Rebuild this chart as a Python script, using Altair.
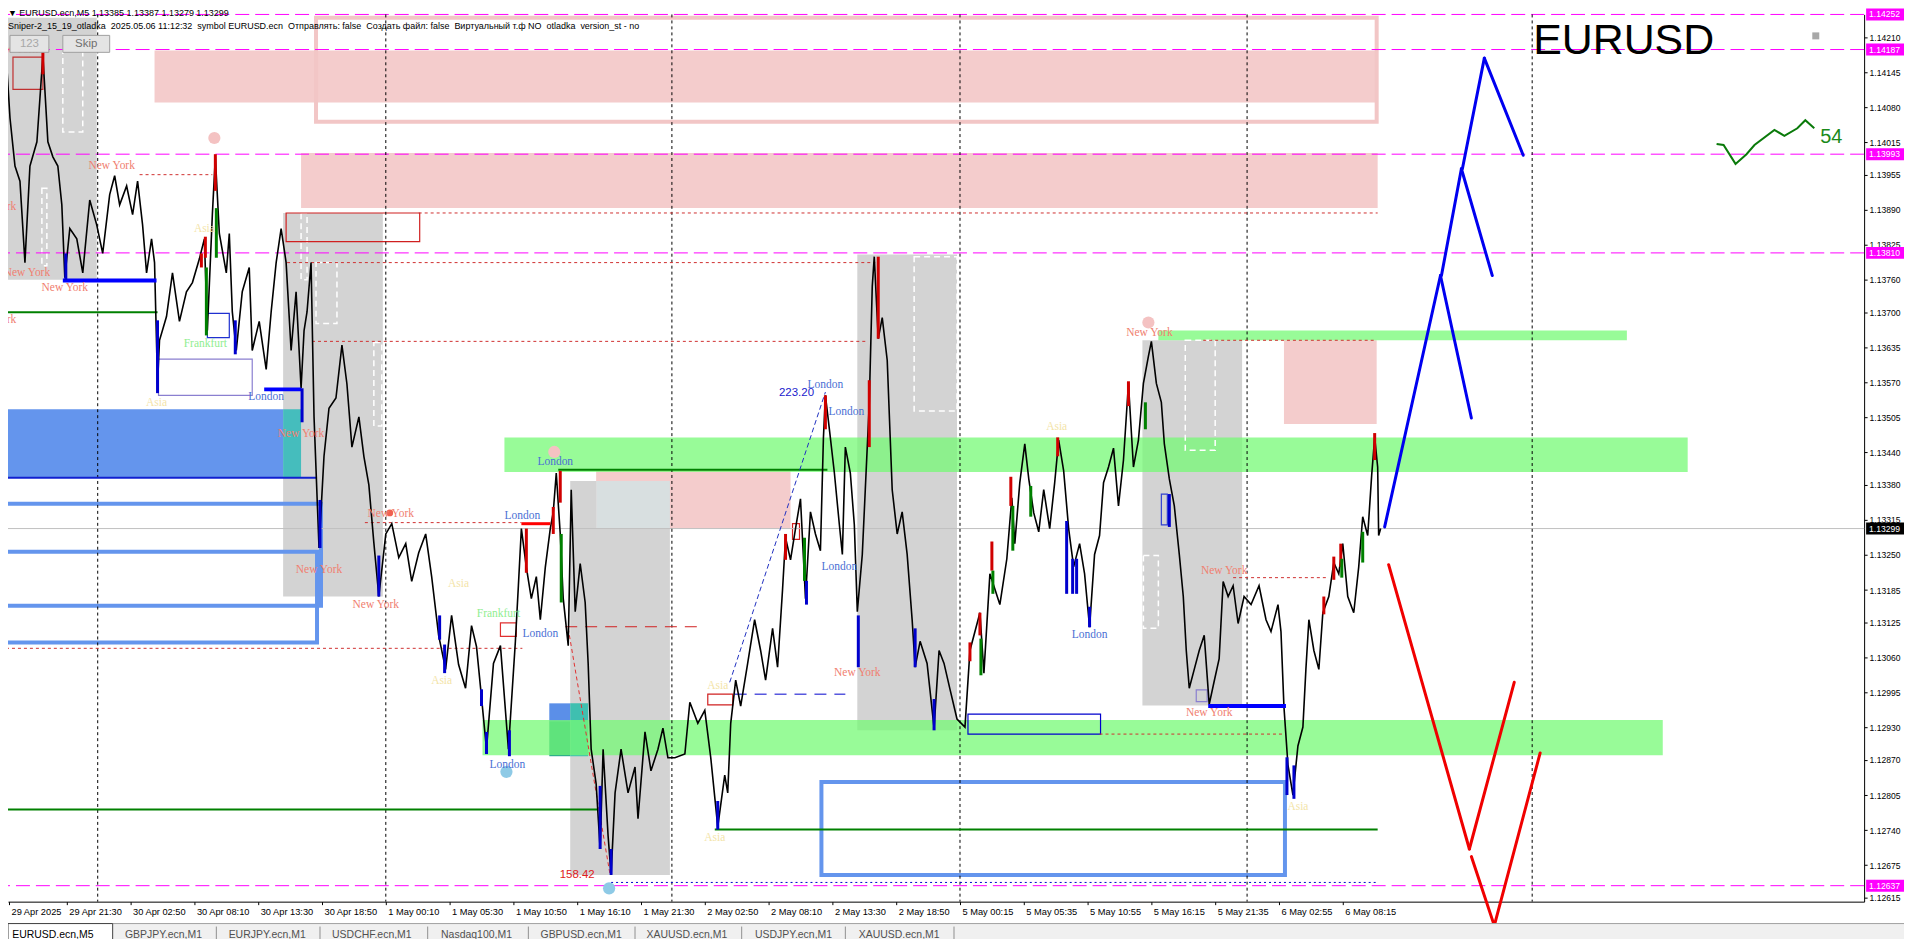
import altair as alt
import pandas as pd

# ---------------- axes ----------------
X_TICKS = [9, 67, 131, 195, 259, 323, 387, 451, 515, 579, 643, 707, 771, 835, 899,
           963, 1027, 1091, 1155, 1219, 1283, 1347]
X_LABELS = ["29 Apr 2025", "29 Apr 21:30", "30 Apr 02:50", "30 Apr 08:10", "30 Apr 13:30",
            "30 Apr 18:50", "1 May 00:10", "1 May 05:30", "1 May 10:50", "1 May 16:10",
            "1 May 21:30", "2 May 02:50", "2 May 08:10", "2 May 13:30", "2 May 18:50",
            "5 May 00:15", "5 May 05:35", "5 May 10:55", "5 May 16:15", "5 May 21:35",
            "6 May 02:55", "6 May 08:15"]
Y_TICKS = [1.14210, 1.14145, 1.14080, 1.14015, 1.13955, 1.13890, 1.13825, 1.13760, 1.13700,
           1.13635, 1.13570, 1.13505, 1.13440, 1.13380, 1.13315, 1.13250, 1.13185, 1.13125,
           1.13060, 1.12995, 1.12930, 1.12870, 1.12805, 1.12740, 1.12675, 1.12615]
HL_MAGENTA = [1.14252, 1.14187, 1.13993, 1.13810, 1.12637]
CUR_PRICE = 1.13299

# ---------------- price path (bar index, price) ----------------
PATH = [
(4,1.14016),(7,1.14150),(10,1.14060),(15,1.13971),(20,1.13943),(25,1.13792),(30,1.13971),
(37,1.14016),(43,1.14176),(48,1.14016),(53,1.13988),(58,1.13971),(62,1.13899),(65,1.13764),
(70,1.13855),(77,1.13836),(83,1.13773),(90,1.13908),(97,1.13862),(103,1.13809),(110,1.13918),
(115,1.13953),(120,1.13899),(127,1.13934),(133,1.13881),(138,1.13943),(143,1.13862),
(147,1.13773),(152,1.13836),(155,1.13792),(158,1.13567),(160,1.13648),(167,1.13692),
(173,1.13773),(180,1.13683),(187,1.13738),(193,1.13755),(200,1.13799),(205,1.13836),
(208,1.13666),(213,1.13881),(216,1.13988),(220,1.13846),(227,1.13773),(230,1.13846),
(233,1.13701),(237,1.13629),(243,1.13738),(250,1.13783),(253,1.13629),(260,1.13683),
(267,1.13594),(272,1.13701),(277,1.13792),(282,1.13855),(287,1.13792),(292,1.13629),
(297,1.13738),(302,1.13559),(305,1.13666),(308,1.13701),(312,1.13792),(315,1.13506),
(320,1.13263),(325,1.13433),(330,1.13522),(337,1.13541),(343,1.13639),(348,1.13567),
(353,1.13450),(360,1.13506),(365,1.13433),(370,1.13380),(375,1.13273),(380,1.13173),
(387,1.13289),(393,1.13308),(400,1.13245),(407,1.13271),(413,1.13201),(420,1.13254),
(427,1.13289),(433,1.13210),(440,1.13101),(447,1.13038),(453,1.13138),(460,1.13047),
(467,1.13003),(473,1.13119),(478,1.13080),(483,1.12986),(488,1.12890),(495,1.13049),
(502,1.13082),(510,1.12890),(517,1.13090),(520,1.13193),(523,1.13299),(528,1.13227),
(533,1.13169),(538,1.13210),(542,1.13130),(547,1.13227),(552,1.13299),(555,1.13330),
(558,1.13402),(562,1.13289),(565,1.13169),(570,1.13082),(573,1.13371),(577,1.13145),
(582,1.13234),(587,1.13162),(590,1.13049),(593,1.12890),(598,1.12826),(602,1.12705),
(605,1.12890),(610,1.12729),(613,1.12657),(617,1.12809),(623,1.12890),(630,1.12809),
(637,1.12857),(640,1.12761),(647,1.12922),(653,1.12850),(660,1.12890),(665,1.12929),
(670,1.12874),(677,1.12874),(687,1.12881),(692,1.12977),(700,1.12938),(707,1.12962),
(713,1.12874),(720,1.12746),(727,1.12842),(730,1.12809),(733,1.12938),(738,1.13018),
(743,1.12970),(750,1.13049),(757,1.13130),(763,1.13073),(768,1.13018),(775,1.13114),
(780,1.13042),(785,1.13186),(788,1.13282),(793,1.13241),(798,1.13299),(803,1.13354),
(808,1.13169),(813,1.13330),(818,1.13289),(823,1.13258),(826,1.13467),(828,1.13546),
(832,1.13483),(837,1.13402),(842,1.13306),(845,1.13251),(848,1.13450),(853,1.13402),
(857,1.13306),(860,1.13145),(865,1.13251),(868,1.13371),(872,1.13531),(875,1.13748),
(877,1.13803),(881,1.13651),(885,1.13690),(890,1.13611),(895,1.13371),(900,1.13289),
(905,1.13330),(910,1.13251),(915,1.13130),(918,1.13042),(923,1.13090),(930,1.13049),
(937,1.12929),(942,1.13073),(947,1.13049),(953,1.13001),(960,1.12946),(968,1.12931),
(973,1.13073),(983,1.13143),(987,1.13031),(993,1.13215),(1003,1.13158),(1010,1.13243),
(1015,1.13356),(1018,1.13271),(1023,1.13384),(1028,1.13456),(1032,1.13391),(1037,1.13328),
(1042,1.13293),(1047,1.13371),(1053,1.13299),(1058,1.13384),(1062,1.13463),(1067,1.13406),
(1072,1.13299),(1077,1.13228),(1083,1.13271),(1088,1.13215),(1093,1.13116),(1098,1.13251),
(1103,1.13286),(1107,1.13384),(1112,1.13413),(1117,1.13448),(1122,1.13341),(1127,1.13426),
(1132,1.13568),(1137,1.13413),(1142,1.13463),(1147,1.13568),(1152,1.13618),(1155,1.13646),
(1160,1.13568),(1165,1.13533),(1168,1.13456),(1173,1.13391),(1178,1.13341),(1183,1.13251),
(1187,1.13173),(1190,1.13073),(1193,1.13003),(1198,1.13038),(1203,1.13073),(1208,1.13101),
(1213,1.12973),(1218,1.13016),(1223,1.13058),(1227,1.13201),(1232,1.13173),(1237,1.13193),
(1242,1.13123),(1248,1.13173),(1255,1.13158),(1263,1.13193),(1270,1.13130),(1275,1.13108),
(1282,1.13158),(1285,1.13108),(1288,1.12968),(1292,1.12861),(1297,1.12805),(1302,1.12896),
(1307,1.12931),(1310,1.13038),(1313,1.13130),(1318,1.13073),(1323,1.13038),(1327,1.13143),
(1333,1.13173),(1338,1.13236),(1343,1.13215),(1347,1.13271),(1352,1.13173),(1358,1.13143),
(1363,1.13228),(1367,1.13321),(1372,1.13286),(1376,1.13398),(1379,1.13468),(1382,1.13413),
(1383,1.13286),(1385,1.13299)]

# coloured candle highlights (bar, high, low, colour)
CANDLES = [
(43,1.14185,1.14141,"r"),(216,1.13993,1.13925,"r"),(217,1.13893,1.13801,"g"),
(202,1.13809,1.13783,"r"),(206,1.13840,1.13801,"r"),(207,1.13783,1.13657,"g"),
(66,1.13809,1.13760,"b"),(158,1.13685,1.13550,"b"),(236,1.13685,1.13622,"b"),
(303,1.13559,1.13496,"b"),(321,1.13352,1.13263,"b"),(380,1.13249,1.13173,"b"),
(441,1.13138,1.13093,"b"),(446,1.13084,1.13031,"b"),(483,1.13001,1.12970,"b"),
(488,1.12922,1.12881,"b"),(511,1.12925,1.12877,"b"),(528,1.13299,1.13217,"r"),
(555,1.13339,1.13289,"r"),(562,1.13406,1.13347,"r"),(563,1.13289,1.13162,"g"),
(602,1.12822,1.12705,"b"),(613,1.12705,1.12657,"b"),(720,1.12794,1.12741,"b"),
(788,1.13289,1.13241,"r"),(807,1.13282,1.13202,"g"),(809,1.13202,1.13158,"b"),
(828,1.13546,1.13483,"r"),(872,1.13574,1.13450,"r"),(881,1.13803,1.13651,"r"),
(861,1.13138,1.13042,"b"),(918,1.13114,1.13042,"b"),(937,1.12983,1.12925,"b"),
(973,1.13088,1.13053,"r"),(983,1.13143,1.13101,"r"),(984,1.13095,1.13027,"g"),
(995,1.13275,1.13221,"r"),(996,1.13221,1.13178,"g"),(1014,1.13395,1.13341,"r"),
(1016,1.13341,1.13258,"g"),(1034,1.13378,1.13321,"g"),(1061,1.13468,1.13433,"r"),
(1070,1.13313,1.13178,"b"),(1076,1.13243,1.13178,"b"),(1080,1.13243,1.13178,"b"),
(1093,1.13154,1.13116,"b"),(1132,1.13572,1.13526,"r"),(1149,1.13533,1.13483,"g"),
(1173,1.13363,1.13302,"b"),(1291,1.12875,1.12805,"b"),(1298,1.12860,1.12798,"b"),
(1328,1.13173,1.13140,"r"),(1338,1.13247,1.13204,"r"),(1345,1.13271,1.13228,"r"),
(1346,1.13243,1.13208,"g"),(1367,1.13293,1.13236,"g"),(1379,1.13476,1.13426,"r")]
CANDLE_COLORS = {"r": "#D00000", "g": "#008000", "b": "#0000CD"}

# ---------------- zones (x0, x1, price top, price bottom) ----------------
GREY_BOXES = [(4,97,1.14246,1.13760),(284,384,1.13884,1.13173),(572,672,1.13387,1.12657),
              (860,960,1.13807,1.12925),(1146,1246,1.13648,1.12971)]
PINK_BOXES = [(155,1382,1.14185,1.14089),(302,1382,1.13995,1.13893),
              (598,793,1.13406,1.13299),(1288,1381,1.13648,1.13493)]
PINK_FRAME = [(317,1381,1.14246,1.14053)]
OVERLAP_BOX = [(598,672,1.13387,1.13299)]
BLUE_FILL = [(0,284,1.13520,1.13393,"#6495ED"),(284,302,1.13520,1.13393,"#45BDBD"),
             (551,572,1.12975,1.12942,"#5B8FE8"),(551,572,1.12942,1.12877,"#1F9E8E"),
             (572,590,1.12975,1.12877,"#3FBFB0")]
GREEN_BANDS = [(506,1693,1.13468,1.13404),(1162,1632,1.13666,1.13648),(484,1668,1.12944,1.12879)]
BLUE_FRAMES = [(0,322,1.13345,1.13156),(0,318,1.13256,1.13088),(824,1289,1.12829,1.12657)]
THIN_FRAMES = [(971,1104,1.12955,1.12918,"#0000CD"),(159,253,1.13613,1.13546,"#8A7FD0"),
               (208,230,1.13698,1.13653,"#2030D0"),(287,421,1.13884,1.13831,"#D02020"),
               (13,43,1.14173,1.14113,"#C03030"),(502,518,1.13124,1.13099,"#E03030"),
               (710,735,1.12992,1.12972,"#D02020"),(795,802,1.13308,1.13279,"#D02020"),
               (1165,1171,1.13363,1.13306,"#3040D0"),(1200,1211,1.13000,1.12978,"#8A7FD0")]
WHITE_DASH = [(63,83,1.14185,1.14034),(42,47,1.13930,1.13786),(317,338,1.13792,1.13679),
              (375,383,1.13644,1.13489),(917,960,1.13803,1.13517),(1189,1219,1.13648,1.13444),
              (1147,1162,1.13249,1.13114),(302,308,1.13884,1.13760)]

# ---------------- horizontal levels (x0, x1, price) ----------------
GREEN_LEVELS = [(0,158,1.13700),(560,830,1.13408),(0,600,1.12778),(717,1382,1.12741)]
BLUE_THICK = [(63,157,1.13759),(265,302,1.13557),(1212,1290,1.12970)]
BLUE_THIN = [(0,318,1.13393)]
RED_THICK = [(523,552,1.13308)]
RED_DOTTED = [(140,213,1.13955),(420,1382,1.13884),(288,878,1.13792),(313,870,1.13646),
              (366,523,1.13310),(0,524,1.13077),(1207,1380,1.13648),(1237,1333,1.13208),
              (1103,1287,1.12918)]
RED_DASHED = [(567,707,1.13117)]
BLUE_DASHED = [(737,848,1.12992)]
BLUE_DOTTED = [(613,1382,1.12643)]
DAY_SEPARATORS = [98, 387, 674, 963, 1251, 1537]

# diagonals (x0, p0, x1, p1)
BLUE_DIAG = [(732,1.13014,828,1.13552)]
RED_DIAG = [(570,1.13114,612,1.12657)]

# projections
BLUE_PROJ = [(1389,1.13302,1445,1.13768),(1446,1.13768,1466,1.13966),(1467,1.13966,1489,1.14171),
             (1489,1.14171,1528,1.13991),(1466,1.13966,1497,1.13768),(1445,1.13768,1476,1.13504)]
RED_PROJ = [(1393,1.13232,1474,1.12705),(1474,1.12705,1519,1.13014),
            (1476,1.12691,1499,1.12563),(1499,1.12563,1545,1.12883)]

# mini indicator line
MINI = [(1722,1.14012),(1729,1.14010),(1741,1.13975),(1752,1.13993),(1760,1.14010),
        (1780,1.14038),(1790,1.14027),(1803,1.14041),(1811,1.14056),(1820,1.14041)]

# dots (bar, price, colour, size)
DOTS = [(215,1.14023,"#F4C2C2",150),(556,1.13441,"#F4C2C2",150),(1152,1.13681,"#F4C2C2",150),
        (508,1.12848,"#8ECAE6",150),(611,1.12632,"#8ECAE6",150),(391,1.13328,"#F06050",45)]

# session labels (bar, price, text, kind)
LABELS = [
(112,1.13971,"New York","ny"),(27,1.13773,"New York","ny"),(65,1.13744,"New York","ny"),
(-7,1.13895,"New York","ny"),(-7,1.13685,"New York","ny"),(15,1.14187,"New York","ny"),
(206,1.13642,"Frankfurt","fr"),(267,1.13542,"London","ld"),(302,1.13475,"New York","ny"),
(392,1.13326,"New York","ny"),(320,1.13223,"New York","ny"),(377,1.13158,"New York","ny"),
(500,1.13140,"Frankfurt","fr"),(542,1.13103,"London","ld"),(524,1.13323,"London","ld"),
(557,1.13422,"London","ld"),(509,1.12861,"London","ld"),(828,1.13565,"London","ld"),
(849,1.13515,"London","ld"),(842,1.13227,"London","ld"),(860,1.13031,"New York","ny"),
(1153,1.13661,"New York","ny"),(1093,1.13101,"London","ld"),(1228,1.13221,"New York","ny"),
(1213,1.12957,"New York","ny"),
(205,1.13855,"Asia","as"),(157,1.13531,"Asia","as"),(460,1.13197,"Asia","as"),
(443,1.13016,"Asia","as"),(720,1.13007,"Asia","as"),(717,1.12726,"Asia","as"),
(1060,1.13487,"Asia","as"),(1302,1.12783,"Asia","as")]
LABEL_KINDS = ["ny", "ld", "fr", "as"]
LABEL_COLORS = ["#F08070", "#4A6FD4", "#90EE90", "#F3E4A8"]

NUMBERS = [(799,1.13550,"223.20","#1A1ACD"),(579,1.12656,"158.42","#E02020")]

HEADER_1 = "\u25BC EURUSD.ecn,M5  1.13385 1.13387 1.13279 1.13299"
HEADER_2 = ("Sniper-2_15_19_otladka\u00a0\u00a02025.05.06 11:12:32\u00a0\u00a0symbol EURUSD.ecn"
            "\u00a0\u00a0Отправлять: false\u00a0\u00a0Создать файл: false\u00a0\u00a0"
            "Виртуальный т.ф NO\u00a0\u00a0otladka\u00a0\u00a0version_st - no")
TABS = ["EURUSD.ecn,M5", "GBPJPY.ecn,M1", "EURJPY.ecn,M1", "USDCHF.ecn,M1", "Nasdaq100,M1",
        "GBPUSD.ecn,M1", "XAUUSD.ecn,M1", "USDJPY.ecn,M1", "XAUUSD.ecn,M1"]
TAB_CENTERS = [45, 156, 260, 365, 470, 575, 681, 788, 894]
TAB_SEPS = [209, 313, 421, 522, 629, 736, 840, 949]

# ---------------- chart ----------------
W, H = 1862, 890
RIGHT_PAD = 40
XS = alt.Scale(domain=[8, 1870], nice=False, zero=False)
YS = alt.Scale(domain=[1.126074, 1.14252], nice=False, zero=False)
SANS = "Liberation Sans"
SERIF = "Liberation Serif"
AXIS_FS = 8.6

lab_expr = ("[" + ",".join(repr(s) for s in X_LABELS) + "][indexof(["
            + ",".join(str(v) for v in X_TICKS) + "], datum.value)]")
AX_X = alt.Axis(values=X_TICKS, labelExpr=lab_expr, title=None, grid=False, orient="bottom",
                labelAlign="left", labelOffset=2, labelPadding=3, tickSize=3, labelFontSize=9.3,
                labelFont=SANS, labelColor="black", tickColor="black", domainColor="black",
                labelFlush=False, labelOverlap=False)
AX_Y = alt.Axis(values=Y_TICKS, format=".5f", title=None, grid=False, orient="right",
                labelAlign="left", labelPadding=2, tickSize=3, labelFontSize=AXIS_FS,
                labelFont=SANS, labelColor="black", tickColor="black", domainColor="black",
                labelFlush=False, labelOverlap=False, labelBaseline="middle")


def X(f):
    return alt.X(f"{f}:Q", scale=XS, axis=AX_X)


def Y(f):
    return alt.Y(f"{f}:Q", scale=YS, axis=AX_Y)


def boxes(rows, cols=("x0", "x1", "p0", "p1")):
    return pd.DataFrame(rows, columns=list(cols))


def rect_layer(rows, **mk):
    return alt.Chart(boxes(rows)).mark_rect(**mk).encode(
        x=X("x0"), x2="x1", y=Y("p0"), y2="p1")


def hseg(rows, **mk):
    return alt.Chart(pd.DataFrame(rows, columns=["x0", "x1", "p"])).mark_rule(**mk).encode(
        x=X("x0"), x2="x1", y=Y("p"))


def diag(rows, **mk):
    return alt.Chart(pd.DataFrame(rows, columns=["x0", "p0", "x1", "p1"])).mark_rule(**mk).encode(
        x=X("x0"), x2="x1", y=Y("p0"), y2="p1")


def PX(f):
    return alt.X(f"{f}:Q", scale=None, axis=None)


def PY(f):
    return alt.Y(f"{f}:Q", scale=None, axis=None)


layers = []
layers.append(rect_layer(GREY_BOXES, color="#D3D3D3"))
layers.append(rect_layer(PINK_BOXES, color="#F4CCCC"))
layers.append(rect_layer(PINK_FRAME, fillOpacity=0, stroke="#F2C6C6", strokeWidth=4))
layers.append(rect_layer(OVERLAP_BOX, color="#D8DFE0"))
layers.append(alt.Chart(boxes(BLUE_FILL, ("x0", "x1", "p0", "p1", "c"))).mark_rect().encode(
    x=X("x0"), x2="x1", y=Y("p0"), y2="p1", color=alt.Color("c:N", scale=None)))
layers.append(rect_layer(GREEN_BANDS, color="#76FA76", opacity=0.75))
layers.append(rect_layer(WHITE_DASH, fillOpacity=0, stroke="white", strokeWidth=1.5,
                         strokeDash=[6, 4]))
layers.append(rect_layer(BLUE_FRAMES, fillOpacity=0, stroke="#6495ED", strokeWidth=4))
layers.append(alt.Chart(boxes(THIN_FRAMES, ("x0", "x1", "p0", "p1", "c"))).mark_rect(
    fillOpacity=0, strokeWidth=1.2).encode(
    x=X("x0"), x2="x1", y=Y("p0"), y2="p1", stroke=alt.Stroke("c:N", scale=None)))

# full-width levels
layers.append(alt.Chart(pd.DataFrame({"p": [CUR_PRICE]})).mark_rule(
    color="#C0C0C0", strokeWidth=1).encode(y=Y("p")))
layers.append(alt.Chart(pd.DataFrame({"p": HL_MAGENTA})).mark_rule(
    color="#FF00FF", strokeWidth=1, strokeDash=[14, 6]).encode(y=Y("p")))
layers.append(alt.Chart(pd.DataFrame({"x": DAY_SEPARATORS})).mark_rule(
    color="black", strokeWidth=1, strokeDash=[3, 3]).encode(x=X("x")))

layers.append(hseg(GREEN_LEVELS, color="#008000", strokeWidth=2))
layers.append(hseg(BLUE_THIN, color="#1020D0", strokeWidth=2))
layers.append(hseg(RED_DOTTED, color="#D03030", strokeWidth=1, strokeDash=[3, 3]))
layers.append(hseg(RED_DASHED, color="#D02020", strokeWidth=1, strokeDash=[12, 8]))
layers.append(hseg(BLUE_DASHED, color="#0000CD", strokeWidth=1, strokeDash=[12, 8]))
layers.append(hseg(BLUE_DOTTED, color="#0000CD", strokeWidth=1, strokeDash=[2, 3]))
layers.append(diag(BLUE_DIAG, color="#2030C0", strokeWidth=1, strokeDash=[5, 3]))
layers.append(diag(RED_DIAG, color="#E03030", strokeWidth=1, strokeDash=[4, 3]))

layers.append(alt.Chart(pd.DataFrame(DOTS, columns=["x", "p", "c", "s"])).mark_circle(
    opacity=1).encode(x=X("x"), y=Y("p"), color=alt.Color("c:N", scale=None),
                      size=alt.Size("s:Q", scale=None)))

# price line
price_df = pd.DataFrame(PATH, columns=["bar", "p"])
layers.append(alt.Chart(price_df).mark_line(color="black", strokeWidth=1.6).encode(
    x=X("bar"), y=Y("p")))

layers.append(hseg(BLUE_THICK, color="#0000FF", strokeWidth=4))
layers.append(hseg(RED_THICK, color="#FF0000", strokeWidth=3))

cdf = pd.DataFrame(CANDLES, columns=["x", "p0", "p1", "k"])
cdf["c"] = cdf["k"].map(CANDLE_COLORS)
layers.append(alt.Chart(cdf).mark_rule(strokeWidth=3).encode(
    x=X("x"), y=Y("p0"), y2="p1", color=alt.Color("c:N", scale=None)))

layers.append(alt.Chart(pd.DataFrame(LABELS, columns=["x", "p", "t", "k"])).mark_text(
    font=SERIF, fontSize=11.5, baseline="middle").encode(
    x=X("x"), y=Y("p"), text="t:N",
    color=alt.Color("k:N", scale=alt.Scale(domain=LABEL_KINDS, range=LABEL_COLORS), legend=None)))
layers.append(alt.Chart(pd.DataFrame(NUMBERS, columns=["x", "p", "t", "c"])).mark_text(
    font=SANS, fontSize=11.5, baseline="middle").encode(
    x=X("x"), y=Y("p"), text="t:N", color=alt.Color("c:N", scale=None)))

layers.append(diag(BLUE_PROJ, color="#0000F0", strokeWidth=3, strokeCap="round"))
layers.append(diag(RED_PROJ, color="#F00000", strokeWidth=3, strokeCap="round"))

layers.append(alt.Chart(pd.DataFrame(MINI, columns=["x", "p"])).mark_line(
    color="#0A7A0A", strokeWidth=2).encode(x=X("x"), y=Y("p")))
layers.append(alt.Chart(pd.DataFrame({"x": [1837], "p": [1.14025], "t": ["54"]})).mark_text(
    font=SANS, fontSize=20, color="#1A8A1A", baseline="middle").encode(
    x=X("x"), y=Y("p"), text="t:N"))

# title and small icon
ui = pd.DataFrame({"t": ["EURUSD"]})
layers.append(alt.Chart(ui).mark_text(font=SANS, fontSize=43, align="left",
                                      baseline="alphabetic", color="black").encode(
    x=alt.value(1530), y=alt.value(40), text="t:N"))
layers.append(alt.Chart(ui).mark_rect(color="#A8A8A8").encode(
    x=alt.value(1810), x2=alt.value(1817), y=alt.value(18), y2=alt.value(25)))

# header
hdr = pd.DataFrame({"t": [HEADER_1, HEADER_2], "y": [-1, 12]})
layers.append(alt.Chart(hdr).mark_text(font=SANS, fontSize=9, align="left", baseline="middle",
                                       color="black").encode(
    x=alt.value(0), y=PY("y"), text="t:N"))
btn = pd.DataFrame({"x0": [2, 55], "x1": [41, 102], "xc": [21.5, 78.5], "t": ["123", "Skip"],
                    "c": ["#A8A8A8", "#707070"]})
layers.append(alt.Chart(btn).mark_rect(fill="#E4E4E4", stroke="#A0A0A0", strokeWidth=1).encode(
    x=PX("x0"), x2="x1:Q", y=alt.value(21), y2=alt.value(38)))
layers.append(alt.Chart(btn).mark_text(font=SANS, fontSize=11.5, baseline="middle").encode(
    x=PX("xc"), y=alt.value(30), text="t:N", color=alt.Color("c:N", scale=None)))

# right-axis highlighted prices
layers.append(alt.Chart(pd.DataFrame({"p": HL_MAGENTA})).mark_tick(
    orient="horizontal", size=38, thickness=12, color="#FF00FF", opacity=1).encode(
    x=alt.value(W + 21), y=Y("p")))
layers.append(alt.Chart(pd.DataFrame({"p": [CUR_PRICE]})).mark_tick(
    orient="horizontal", size=38, thickness=12, color="#000000", opacity=1).encode(
    x=alt.value(W + 21), y=Y("p")))
hl_txt = pd.DataFrame({"p": HL_MAGENTA + [CUR_PRICE]})
hl_txt["t"] = hl_txt["p"].map(lambda v: f"{v:.5f}")
layers.append(alt.Chart(hl_txt).mark_text(font=SANS, fontSize=AXIS_FS, align="left",
                                          baseline="middle", color="white").encode(
    x=alt.value(W + 5), y=Y("p"), text="t:N"))

# bottom tab bar
layers.append(alt.Chart(ui).mark_rect(color="#F0F0F0").encode(
    x=alt.value(0), x2=alt.value(W + RIGHT_PAD), y=alt.value(912), y2=alt.value(940)))
layers.append(alt.Chart(ui).mark_rule(color="#A0A0A0").encode(
    x=alt.value(0), x2=alt.value(W + RIGHT_PAD), y=alt.value(912)))
layers.append(alt.Chart(ui).mark_rect(fill="white", stroke="#404040", strokeWidth=1).encode(
    x=alt.value(0), x2=alt.value(105), y=alt.value(912), y2=alt.value(940)))
layers.append(alt.Chart(pd.DataFrame({"x": TAB_SEPS})).mark_rule(color="#909090").encode(
    x=PX("x"), y=alt.value(915), y2=alt.value(932)))
tabs_df = pd.DataFrame({"x": TAB_CENTERS, "t": TABS,
                        "c": ["#000000"] + ["#505050"] * (len(TABS) - 1)})
layers.append(alt.Chart(tabs_df).mark_text(font=SANS, fontSize=10.5, baseline="middle").encode(
    x=PX("x"), y=alt.value(923), text="t:N", color=alt.Color("c:N", scale=None)))

chart = alt.layer(*layers).properties(
    width=W, height=H,
    padding={"left": 0, "top": 5, "right": RIGHT_PAD, "bottom": 36},
    autosize=alt.AutoSizeParams(type="none"),
    background="white",
).configure_view(strokeWidth=0)

chart.save("out.html", embed_options={"renderer": "svg", "actions": False})
